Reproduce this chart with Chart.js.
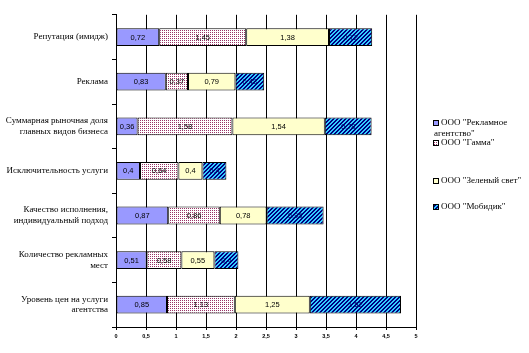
<!DOCTYPE html>
<html>
<head>
<meta charset="utf-8">
<script src="https://cdn.jsdelivr.net/npm/chart.js@4"></script>
<style>
  body { margin: 0; background: #fff; }
  canvas { display: block; }
</style>
</head>
<body>
<canvas id="chart" width="529" height="353"></canvas>
<script>
// Data
const categories = [
  "Репутация (имидж)",
  "Реклама",
  ["Суммарная рыночная доля", "главных видов бизнеса"],
  "Исключительность услуги",
  ["Качество исполнения,", "индивидуальный подход"],
  ["Количество рекламных", "мест"],
  ["Уровень цен на услуги", "агентства"]
];
const seriesNames = [
  ["ООО \"Рекламное", "агентство\""],
  ["ООО \"Гамма\""],
  ["ООО \"Зеленый свет\""],
  ["ООО \"Мобидик\""]
];
const agencyValues = [0.72, 0.83, 0.36, 0.4, 0.87, 0.51, 0.85];
const gammaValues = [1.45, 0.37, 1.58, 0.64, 0.86, 0.58, 1.13];
const greenValues = [1.38, 0.79, 1.54, 0.4, 0.78, 0.55, 1.25];
const mobidikValues = [0.72, 0.48, 0.78, 0.4, 0.95, 0.4, 1.52];
const xTicks = [0, 0.5, 1, 1.5, 2, 2.5, 3, 3.5, 4, 4.5, 5];

const fmt = v => String(v).replace(".", ",");

// Fill patterns
function dotPattern() {
  const c = document.createElement("canvas");
  c.width = 2; c.height = 2;
  const g = c.getContext("2d");
  g.fillStyle = "#ffffff";
  g.fillRect(0, 0, 2, 2);
  g.fillStyle = "#993366";
  g.fillRect(0, 0, 1, 1);
  return g.createPattern(c, "repeat");
}

function hatchPattern() {
  const c = document.createElement("canvas");
  c.width = 4; c.height = 4;
  const g = c.getContext("2d");
  g.fillStyle = "#33ccff";
  g.fillRect(0, 0, 4, 4);
  g.fillStyle = "#000080";
  for (let y = 0; y < 4; y++) {
    for (let x = 0; x < 4; x++) {
      if ((x + y) % 4 === 3 || (x + y) % 4 === 0) g.fillRect(x, y, 1, 1);
    }
  }
  return g.createPattern(c, "repeat");
}

const fills = ["#9999ff", dotPattern(), "#ffffcc", hatchPattern()];
const labelColors = ["#000000", "#000000", "#000000", "#000066"];

// Value labels inside the segments
const valueLabels = {
  id: "valueLabels",
  afterDatasetsDraw(chart) {
    const ctx = chart.ctx;
    ctx.save();
    ctx.font = "7.5px 'Liberation Sans', Arial, sans-serif";
    ctx.textAlign = "center";
    ctx.textBaseline = "middle";
    chart.data.datasets.forEach((ds, i) => {
      ctx.fillStyle = labelColors[i];
      chart.getDatasetMeta(i).data.forEach((bar, j) => {
        ctx.fillText(fmt(ds.data[j]), (bar.x + bar.base) / 2, bar.y + 0.5);
      });
    });
    ctx.restore();
  }
};

// Legend on the right, with wrapped names
const sideLegend = {
  id: "sideLegend",
  afterDraw(chart) {
    const ctx = chart.ctx;
    const rows = [123, 143, 181, 207];
    ctx.save();
    ctx.font = "9px 'Liberation Serif', 'Times New Roman', serif";
    ctx.textBaseline = "middle";
    ctx.textAlign = "left";
    chart.data.datasets.forEach((ds, i) => {
      const y = rows[i];
      ctx.fillStyle = ds.backgroundColor;
      ctx.fillRect(433, y - 3, 5, 5);
      ctx.strokeStyle = "#000";
      ctx.lineWidth = 1;
      ctx.strokeRect(433.5, y - 2.5, 5, 5);
      ctx.fillStyle = "#000";
      seriesNames[i].forEach((line, k) => {
        ctx.fillText(line, k === 0 ? 441 : 434, y + k * 11);
      });
    });
    ctx.restore();
  }
};

const ctx = document.getElementById("chart").getContext("2d");

new Chart(ctx, {
  type: "bar",
  data: {
    labels: categories,
    datasets: [agencyValues, gammaValues, greenValues, mobidikValues].map((d, i) => ({
      label: seriesNames[i].join(" "),
      data: d,
      backgroundColor: fills[i],
      borderColor: "#000000",
      borderWidth: 1,
      borderSkipped: false,
      barPercentage: 0.4,
      categoryPercentage: 1
    }))
  },
  options: {
    indexAxis: "y",
    responsive: false,
    animation: false,
    layout: { padding: { top: 10, right: 113, left: 0, bottom: 0 } },
    plugins: {
      legend: { display: false },
      tooltip: { enabled: false }
    },
    scales: {
      x: {
        stacked: true,
        min: 0,
        max: 5,
        afterBuildTicks: scale => { scale.ticks = xTicks.map(v => ({ value: v })); },
        afterFit: scale => { scale.height = 26; },
        grid: { color: "#000000", lineWidth: 1, tickLength: 3 },
        border: { color: "#000000" },
        ticks: {
          callback: v => fmt(v),
          font: { family: "'Liberation Sans', Arial, sans-serif", size: 5.5, weight: "bold" },
          color: "#000000",
          padding: 3,
          maxRotation: 0
        }
      },
      y: {
        stacked: true,
        afterFit: scale => { scale.width = 116; },
        grid: { offset: true, drawOnChartArea: false, color: "#000000", tickLength: 4 },
        border: { color: "#000000" },
        ticks: {
          font: { family: "'Liberation Serif', 'Times New Roman', serif", size: 9 },
          color: "#000000",
          padding: 4
        }
      }
    }
  },
  plugins: [valueLabels, sideLegend]
});
</script>
</body>
</html>
